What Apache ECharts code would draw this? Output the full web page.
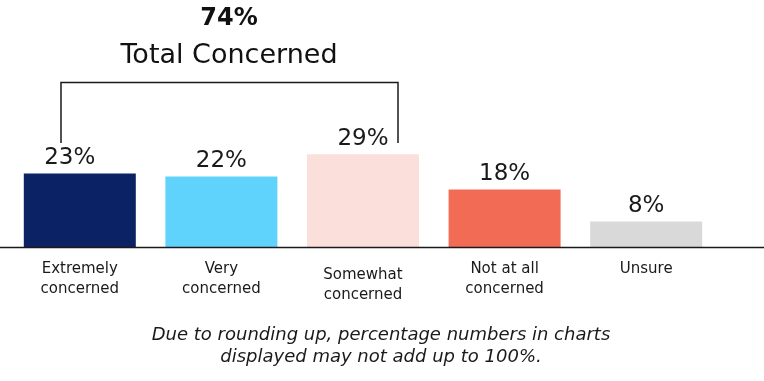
<!DOCTYPE html>
<html><head><meta charset="utf-8">
<script src="https://cdn.jsdelivr.net/npm/echarts@6/dist/echarts.min.js"></script>
<style>html,body{margin:0;padding:0;background:#fff}#c{width:764px;height:381px}</style>
</head><body><div id="c"></div>
<script>
const categories = ['Extremely\nconcerned', 'Very\nconcerned', 'Somewhat\nconcerned', 'Not at all\nconcerned', 'Unsure'];
const values = [23, 22, 29, 18, 8];
const colors = ['#0b2264', '#5fd3fc', '#fbdfdb', '#f26b55', '#d9d9d9'];
const totalLabel = '74%';
const totalText = 'Total Concerned';
const footnote = 'Due to rounding up, percentage numbers in charts\ndisplayed may not add up to 100%.';

const FONT = 'DejaVu Sans';
const chart = echarts.init(document.getElementById('c'));
chart.setOption({
  animation: false,
  backgroundColor: '#fff',
  textStyle: { fontFamily: FONT },
  grid: { left: 9, right: 47, top: 87, bottom: 134 },
  title: [
    { text: totalLabel, left: 224, top: 2, textAlign: 'center',
      textStyle: { fontFamily: FONT, fontSize: 24, fontWeight: 'bold', color: '#111' } },
    { text: totalText, left: 224, top: 37, textAlign: 'center',
      textStyle: { fontFamily: FONT, fontSize: 27, fontWeight: 'normal', color: '#111' } },
    { text: footnote, left: 376, top: 319, textAlign: 'center',
      textStyle: { fontFamily: FONT, fontSize: 18, fontStyle: 'italic', fontWeight: 'normal', color: '#1a1a1a', lineHeight: 22 } }
  ],
  xAxis: {
    type: 'category',
    data: categories.map((c, i) => i === 2
      ? { value: c, textStyle: { padding: [6, 0, 0, 0] } }
      : c),
    axisLine: { show: false },
    axisTick: { show: false },
    axisLabel: { color: '#1a1a1a', fontSize: 15, lineHeight: 20, margin: 12, interval: 0, fontFamily: FONT }
  },
  yAxis: { type: 'value', min: 0, max: 50, show: false, splitLine: { show: false } },
  series: [{
    type: 'bar',
    barWidth: 112,
    data: values.map((v, i) => ({
      value: v,
      itemStyle: { color: colors[i] },
      label: i === 0 ? { offset: [-10, 0] } : undefined
    })),
    label: {
      show: true, position: 'top', distance: 4,
      formatter: '{c}%', fontSize: 23, color: '#1a1a1a', fontFamily: FONT
    }
  }],
  graphic: [
    { type: 'line', shape: { x1: 0, y1: 247.5, x2: 764, y2: 247.5 },
      style: { stroke: '#1a1a1a', lineWidth: 1.5 }, z: 10 },
    { type: 'polyline', shape: { points: [[61, 143], [61, 82.5], [398, 82.5], [398, 143]] },
      style: { stroke: '#1a1a1a', lineWidth: 1.5, fill: null }, z: 10 }
  ]
});
</script></body></html>
